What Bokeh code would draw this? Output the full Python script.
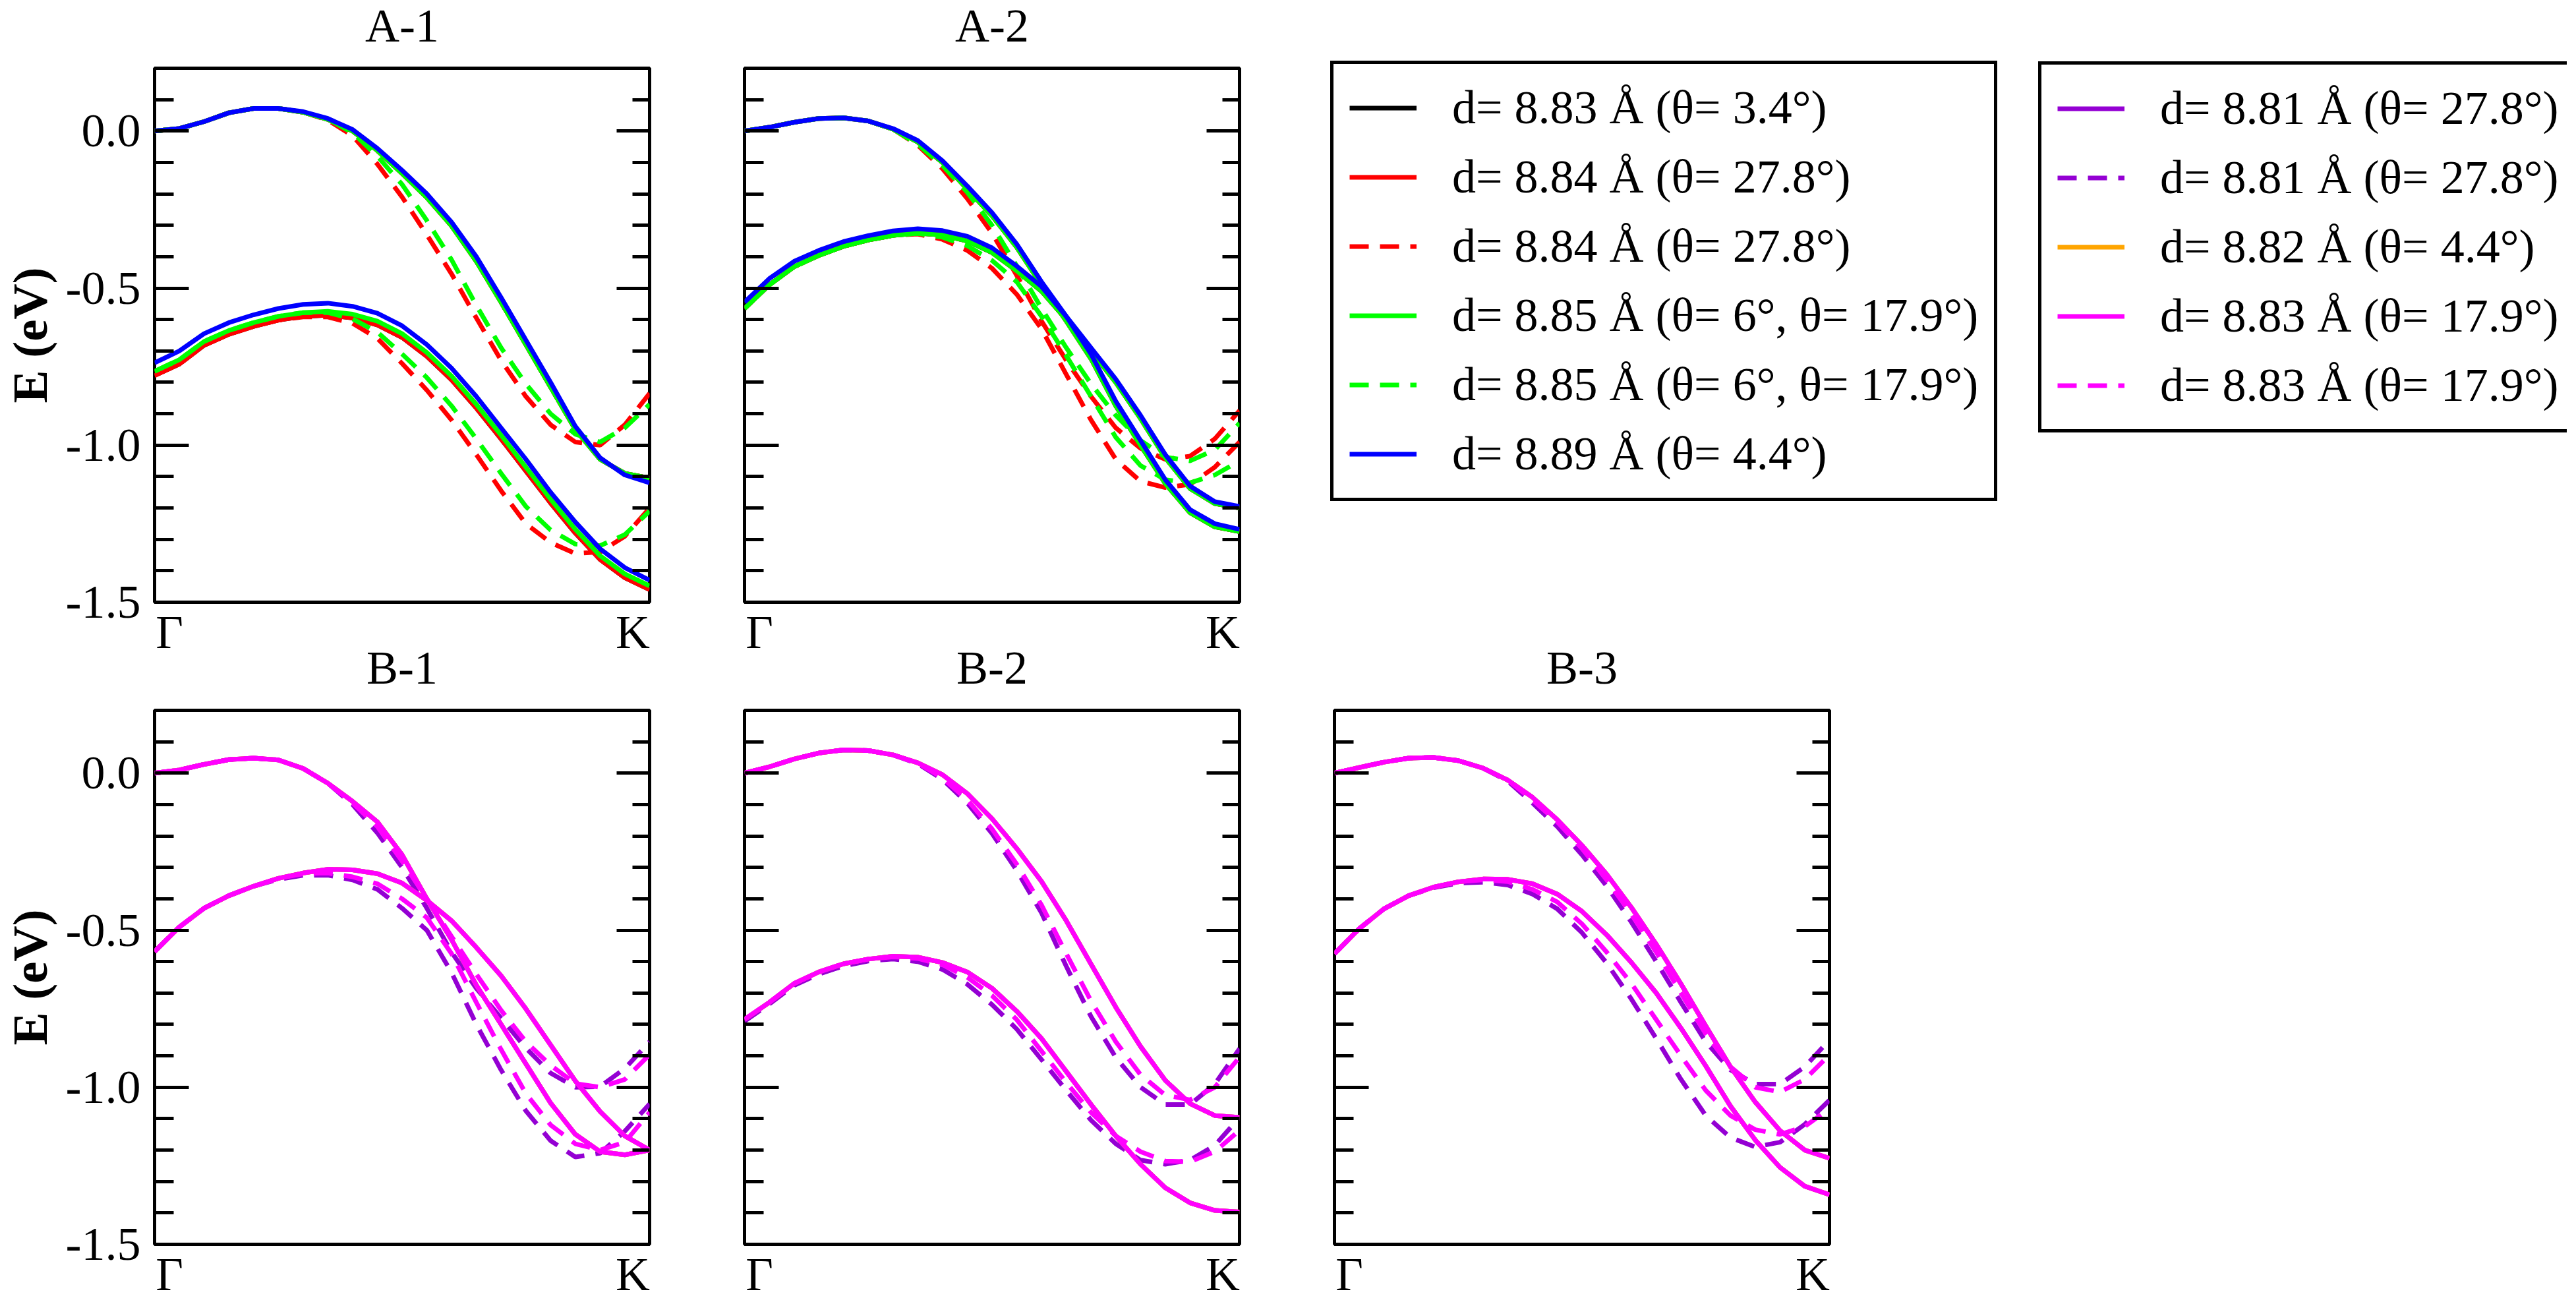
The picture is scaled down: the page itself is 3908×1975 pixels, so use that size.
import numpy as np
from bokeh.plotting import figure
from bokeh.models import Range1d, FixedTicker, LinearAxis, Legend, LegendItem
from bokeh.layouts import row, column
from bokeh.embed import file_html
from bokeh.resources import INLINE

# ---------------- data ----------------
K_PATH = [0.00, 0.05, 0.10, 0.15, 0.20, 0.25, 0.30, 0.35, 0.40, 0.45, 0.50,
          0.55, 0.60, 0.65, 0.70, 0.75, 0.80, 0.85, 0.90, 0.95, 1.00]

Y_TICKS = [-1.5, -1.0, -0.5, 0.0]
Y_TICK_LABELS = ["-1.5", "-1.0", "-0.5", "0.0"]
Y_MINOR = [-1.4, -1.3, -1.2, -1.1, -0.9, -0.8, -0.7, -0.6, -0.4, -0.3, -0.2, -0.1, 0.1]
X_TICK_LABELS = ["Γ", "K"]
PANEL_TITLES = ["A-1", "A-2", "B-1", "B-2", "B-3"]

LEGEND_A = ["d= 8.83 Å (θ= 3.4°)", "d= 8.84 Å (θ= 27.8°)", "d= 8.84 Å (θ= 27.8°)",
            "d= 8.85 Å (θ= 6°, θ= 17.9°)", "d= 8.85 Å (θ= 6°, θ= 17.9°)", "d= 8.89 Å (θ= 4.4°)"]
LEGEND_B = ["d= 8.81 Å (θ= 27.8°)", "d= 8.81 Å (θ= 27.8°)", "d= 8.82 Å (θ= 4.4°)",
            "d= 8.83 Å (θ= 17.9°)", "d= 8.83 Å (θ= 17.9°)"]

# A-1
A1_UP_BLUE = [0.000, 0.008, 0.030, 0.058, 0.072, 0.072, 0.062, 0.040, 0.005, -0.055, -0.125,
              -0.200, -0.290, -0.400, -0.530, -0.665, -0.800, -0.940, -1.040, -1.095, -1.120]
A1_UP_OTHER = [0.000, 0.008, 0.030, 0.058, 0.072, 0.072, 0.060, 0.037, 0.000, -0.062, -0.135,
               -0.212, -0.302, -0.415, -0.545, -0.680, -0.815, -0.950, -1.045, -1.090, -1.105]
A1_LO_BLUE = [-0.738, -0.700, -0.645, -0.610, -0.585, -0.565, -0.552, -0.548, -0.558, -0.580, -0.620,
              -0.680, -0.755, -0.845, -0.945, -1.045, -1.150, -1.245, -1.330, -1.390, -1.430]
A1_LO_GREEN = [-0.765, -0.728, -0.670, -0.635, -0.610, -0.590, -0.578, -0.574, -0.583, -0.605, -0.645,
               -0.705, -0.780, -0.870, -0.968, -1.070, -1.172, -1.268, -1.352, -1.410, -1.448]
A1_LO_BLACK = [-0.778, -0.742, -0.682, -0.647, -0.622, -0.602, -0.590, -0.586, -0.595, -0.617, -0.657,
               -0.717, -0.792, -0.882, -0.980, -1.082, -1.184, -1.280, -1.364, -1.422, -1.460]
A1_UP_RED_DASH = [0.000, 0.008, 0.030, 0.058, 0.072, 0.072, 0.060, 0.035, -0.015, -0.105, -0.210,
                  -0.330, -0.455, -0.595, -0.730, -0.845, -0.935, -0.990, -1.000, -0.935, -0.835]
A1_UP_GREEN_DASH = [0.000, 0.008, 0.030, 0.058, 0.072, 0.072, 0.060, 0.038, -0.005, -0.080, -0.170,
                    -0.285, -0.410, -0.555, -0.690, -0.805, -0.900, -0.965, -0.990, -0.945, -0.870]
A1_LO_RED_DASH = [-0.778, -0.742, -0.682, -0.647, -0.622, -0.602, -0.592, -0.592, -0.612, -0.660, -0.740,
                  -0.825, -0.920, -1.030, -1.145, -1.250, -1.310, -1.345, -1.340, -1.290, -1.200]
A1_LO_GREEN_DASH = [-0.765, -0.728, -0.670, -0.635, -0.610, -0.590, -0.578, -0.578, -0.598, -0.640, -0.710,
                    -0.785, -0.875, -0.980, -1.090, -1.195, -1.270, -1.315, -1.320, -1.285, -1.210]

# A-2
A2_UP_BLUE = [0.000, 0.012, 0.028, 0.040, 0.042, 0.032, 0.008, -0.030, -0.095, -0.175, -0.260,
              -0.360, -0.480, -0.590, -0.710, -0.860, -0.985, -1.110, -1.205, -1.250, -1.268]
A2_LO_BLUE = [-0.545, -0.470, -0.415, -0.380, -0.352, -0.333, -0.318, -0.311, -0.317, -0.335, -0.372,
              -0.430, -0.495, -0.590, -0.690, -0.790, -0.905, -1.030, -1.130, -1.180, -1.195]
A2_UP_OTHER = [0.000, 0.012, 0.028, 0.040, 0.042, 0.032, 0.006, -0.035, -0.100, -0.185, -0.270,
               -0.370, -0.490, -0.605, -0.725, -0.875, -1.000, -1.122, -1.215, -1.260, -1.275]
A2_LO_OTHER = [-0.565, -0.490, -0.432, -0.396, -0.367, -0.347, -0.332, -0.325, -0.331, -0.350, -0.387,
               -0.445, -0.510, -0.600, -0.700, -0.800, -0.915, -1.040, -1.138, -1.186, -1.200]
A2_UP_RED_DASH = [0.000, 0.012, 0.028, 0.040, 0.042, 0.032, 0.006, -0.045, -0.120, -0.215, -0.325,
                  -0.460, -0.605, -0.730, -0.845, -0.945, -1.010, -1.045, -1.035, -0.980, -0.890]
A2_UP_GREEN_DASH = [0.000, 0.012, 0.028, 0.040, 0.042, 0.032, 0.006, -0.042, -0.110, -0.195, -0.300,
                    -0.430, -0.565, -0.690, -0.805, -0.905, -0.985, -1.038, -1.050, -1.015, -0.930]
A2_LO_RED_DASH = [-0.565, -0.490, -0.432, -0.396, -0.367, -0.347, -0.332, -0.328, -0.345, -0.380, -0.437,
                  -0.520, -0.630, -0.775, -0.920, -1.045, -1.115, -1.135, -1.125, -1.070, -0.990]
A2_LO_GREEN_DASH = [-0.565, -0.490, -0.432, -0.396, -0.367, -0.347, -0.332, -0.326, -0.338, -0.365, -0.412,
                    -0.480, -0.590, -0.715, -0.845, -0.975, -1.065, -1.110, -1.120, -1.095, -1.050]

# B-1
B1_UP = [0.000, 0.010, 0.028, 0.043, 0.048, 0.042, 0.015, -0.032, -0.090, -0.155, -0.260,
         -0.400, -0.530, -0.675, -0.800, -0.925, -1.050, -1.150, -1.205, -1.215, -1.200]
B1_LO = [-0.568, -0.490, -0.430, -0.390, -0.360, -0.335, -0.318, -0.306, -0.308, -0.320, -0.350,
         -0.405, -0.470, -0.555, -0.645, -0.750, -0.865, -0.980, -1.077, -1.155, -1.200]
B1_UP_PURPLE_DASH = [0.000, 0.010, 0.028, 0.043, 0.048, 0.042, 0.015, -0.032, -0.100, -0.190, -0.300,
                     -0.430, -0.570, -0.685, -0.780, -0.875, -0.955, -1.000, -0.998, -0.940, -0.855]
B1_UP_MAGENTA_DASH = [0.000, 0.010, 0.028, 0.043, 0.048, 0.042, 0.015, -0.032, -0.095, -0.170, -0.280,
                      -0.400, -0.520, -0.640, -0.755, -0.855, -0.930, -0.988, -1.000, -0.975, -0.896]
B1_LO_PURPLE_DASH = [-0.568, -0.490, -0.430, -0.390, -0.360, -0.338, -0.325, -0.325, -0.340, -0.370, -0.430,
                     -0.500, -0.635, -0.800, -0.945, -1.075, -1.170, -1.222, -1.210, -1.140, -1.053]
B1_LO_MAGENTA_DASH = [-0.568, -0.490, -0.430, -0.390, -0.360, -0.335, -0.320, -0.318, -0.330, -0.352, -0.400,
                      -0.460, -0.575, -0.730, -0.880, -1.020, -1.120, -1.180, -1.200, -1.175, -1.080]

# B-2
B2_UP = [0.000, 0.020, 0.045, 0.064, 0.074, 0.072, 0.058, 0.033, -0.005, -0.065, -0.145,
         -0.240, -0.345, -0.470, -0.608, -0.745, -0.870, -0.978, -1.052, -1.090, -1.096]
B2_LO = [-0.784, -0.730, -0.670, -0.633, -0.607, -0.592, -0.583, -0.586, -0.603, -0.633, -0.685,
         -0.758, -0.845, -0.950, -1.055, -1.155, -1.245, -1.320, -1.368, -1.392, -1.397]
B2_UP_PURPLE_DASH = [0.000, 0.020, 0.045, 0.064, 0.074, 0.072, 0.058, 0.030, -0.020, -0.095, -0.192,
                     -0.310, -0.445, -0.615, -0.775, -0.905, -1.000, -1.055, -1.055, -0.990, -0.877]
B2_UP_MAGENTA_DASH = [0.000, 0.020, 0.045, 0.064, 0.074, 0.072, 0.058, 0.032, -0.015, -0.085, -0.178,
                      -0.290, -0.420, -0.575, -0.725, -0.855, -0.960, -1.025, -1.040, -1.000, -0.904]
B2_LO_PURPLE_DASH = [-0.790, -0.735, -0.676, -0.640, -0.614, -0.598, -0.592, -0.600, -0.625, -0.672, -0.737,
                     -0.815, -0.912, -1.010, -1.105, -1.180, -1.232, -1.245, -1.232, -1.185, -1.096]
B2_LO_MAGENTA_DASH = [-0.784, -0.730, -0.670, -0.633, -0.607, -0.592, -0.585, -0.590, -0.610, -0.650, -0.708,
                      -0.785, -0.885, -0.985, -1.080, -1.155, -1.205, -1.235, -1.237, -1.205, -1.137]

# B-3
B3_UP = [0.000, 0.018, 0.035, 0.048, 0.050, 0.040, 0.016, -0.022, -0.077, -0.148, -0.230,
         -0.322, -0.428, -0.545, -0.671, -0.805, -0.935, -1.047, -1.138, -1.200, -1.226]
B3_LO = [-0.575, -0.495, -0.432, -0.390, -0.363, -0.346, -0.337, -0.338, -0.352, -0.385, -0.440,
         -0.515, -0.603, -0.700, -0.812, -0.932, -1.060, -1.168, -1.255, -1.315, -1.342]
B3_UP_PURPLE_DASH = [0.000, 0.018, 0.035, 0.048, 0.050, 0.040, 0.016, -0.025, -0.095, -0.170, -0.260,
                     -0.360, -0.475, -0.600, -0.730, -0.855, -0.945, -0.990, -0.990, -0.935, -0.849]
B3_UP_MAGENTA_DASH = [0.000, 0.018, 0.035, 0.048, 0.050, 0.040, 0.016, -0.022, -0.085, -0.155, -0.240,
                      -0.340, -0.450, -0.570, -0.700, -0.830, -0.935, -1.000, -1.015, -0.975, -0.897]
B3_LO_PURPLE_DASH = [-0.575, -0.495, -0.432, -0.390, -0.365, -0.350, -0.347, -0.356, -0.385, -0.432, -0.508,
                     -0.605, -0.720, -0.845, -0.975, -1.090, -1.160, -1.190, -1.175, -1.118, -1.041]
B3_LO_MAGENTA_DASH = [-0.575, -0.495, -0.432, -0.390, -0.363, -0.346, -0.340, -0.345, -0.370, -0.410, -0.480,
                      -0.570, -0.670, -0.785, -0.900, -1.010, -1.090, -1.135, -1.150, -1.125, -1.068]

# ---------------- style ----------------
FONT = "Liberation Serif"
FS = "72px"
INK = "#000000"
BLACK, RED, GREEN, BLUE = "#000000", "#ff0000", "#00ff00", "#0000ff"
VIOLET, ORANGE, MAGENTA = "#9400d3", "#ffa500", "#ff00ff"
SOLID, DASH = "solid", "29 17"
LW = 7
FRAME_W, FRAME_H = 751, 810
B_TOP, B_BOT, B_RIGHT = 133, 88, 50
B_LEFT_LABELS, B_LEFT_PLAIN = 232, 94
ROW_H = B_TOP + FRAME_H + B_BOT
TITLE_STANDOFF = 50
GAMMA_X, K_X = 0.03, 0.966
LEG_A_POS = (88, 241)
LEG_B_POS = (1162, 345)


def make_panel(title, curves, with_labels):
    p = figure(frame_width=FRAME_W, frame_height=FRAME_H,
               x_range=Range1d(0, 1), y_range=Range1d(-1.5, 0.2),
               output_backend="svg", toolbar_location=None,
               min_border_left=B_LEFT_LABELS if with_labels else B_LEFT_PLAIN,
               min_border_right=B_RIGHT, min_border_top=B_TOP, min_border_bottom=B_BOT,
               border_fill_alpha=0, background_fill_alpha=0)
    p.xgrid.visible = False
    p.ygrid.visible = False
    p.outline_line_color = INK
    p.outline_line_width = 5
    p.outline_line_alpha = 1.0

    p.title.text = title
    p.title.text_font = FONT
    p.title.text_font_size = FS
    p.title.text_font_style = "normal"
    p.title.text_color = INK
    p.title.align = "center"
    p.title.standoff = TITLE_STANDOFF

    yt = FixedTicker(ticks=Y_TICKS, minor_ticks=Y_MINOR)
    ya = p.yaxis[0]
    ya.ticker = yt
    ya.axis_line_color = None
    ya.major_tick_in, ya.major_tick_out = 52, 0
    ya.minor_tick_in, ya.minor_tick_out = 29, 0
    ya.major_tick_line_width = 5
    ya.minor_tick_line_width = 5
    ya.major_tick_line_color = INK
    ya.minor_tick_line_color = INK
    if with_labels:
        ya.major_label_overrides = dict(zip(Y_TICKS, Y_TICK_LABELS))
        ya.major_label_text_font = FONT
        ya.major_label_text_font_size = FS
        ya.major_label_text_color = INK
        ya.major_label_standoff = 21
        ya.axis_label = "E (eV)"
        ya.axis_label_text_font = FONT
        ya.axis_label_text_font_size = "75px"
        ya.axis_label_text_font_style = "bold"
        ya.axis_label_text_color = INK
        ya.axis_label_standoff = 10
    else:
        ya.major_label_text_color = None
        ya.major_label_standoff = 0

    ra = LinearAxis(ticker=yt, axis_line_color=None,
                    major_tick_in=50, major_tick_out=0, minor_tick_in=26, minor_tick_out=0,
                    major_tick_line_width=5, minor_tick_line_width=5,
                    major_tick_line_color=INK, minor_tick_line_color=INK,
                    major_label_text_color=None, major_label_standoff=0)
    p.add_layout(ra, "right")

    xa = p.xaxis[0]
    xa.ticker = FixedTicker(ticks=[GAMMA_X, K_X])
    xa.major_label_overrides = {GAMMA_X: X_TICK_LABELS[0], K_X: X_TICK_LABELS[1]}
    xa.major_label_text_font = FONT
    xa.major_label_text_font_size = FS
    xa.major_label_text_color = INK
    xa.major_label_standoff = 5
    xa.axis_line_color = None
    xa.major_tick_line_color = None
    xa.major_tick_in, xa.major_tick_out = 0, 0

    for ys, color, dash in curves:
        p.line(K_PATH, ys, line_color=color, line_width=LW, line_dash=dash)
    return p


a1 = make_panel(PANEL_TITLES[0], [
    (A1_UP_OTHER, BLACK, SOLID), (A1_LO_BLACK, BLACK, SOLID),
    (A1_UP_OTHER, RED, SOLID), (A1_LO_BLACK, RED, SOLID),
    (A1_UP_RED_DASH, RED, DASH), (A1_LO_RED_DASH, RED, DASH),
    (A1_UP_OTHER, GREEN, SOLID), (A1_LO_GREEN, GREEN, SOLID),
    (A1_UP_GREEN_DASH, GREEN, DASH), (A1_LO_GREEN_DASH, GREEN, DASH),
    (A1_UP_BLUE, BLUE, SOLID), (A1_LO_BLUE, BLUE, SOLID)], True)

a2 = make_panel(PANEL_TITLES[1], [
    (A2_UP_OTHER, BLACK, SOLID), (A2_LO_OTHER, BLACK, SOLID),
    (A2_UP_OTHER, RED, SOLID), (A2_LO_OTHER, RED, SOLID),
    (A2_UP_RED_DASH, RED, DASH), (A2_LO_RED_DASH, RED, DASH),
    (A2_UP_OTHER, GREEN, SOLID), (A2_LO_OTHER, GREEN, SOLID),
    (A2_UP_GREEN_DASH, GREEN, DASH), (A2_LO_GREEN_DASH, GREEN, DASH),
    (A2_UP_BLUE, BLUE, SOLID), (A2_LO_BLUE, BLUE, SOLID)], False)


def b_curves(up, lo, up_pd, lo_pd, up_md, lo_md):
    return [(up, VIOLET, SOLID), (lo, VIOLET, SOLID),
            (up_pd, VIOLET, DASH), (lo_pd, VIOLET, DASH),
            (up, ORANGE, SOLID), (lo, ORANGE, SOLID),
            (up, MAGENTA, SOLID), (lo, MAGENTA, SOLID),
            (up_md, MAGENTA, DASH), (lo_md, MAGENTA, DASH)]


b1 = make_panel(PANEL_TITLES[2], b_curves(B1_UP, B1_LO, B1_UP_PURPLE_DASH, B1_LO_PURPLE_DASH,
                                          B1_UP_MAGENTA_DASH, B1_LO_MAGENTA_DASH), True)
b2 = make_panel(PANEL_TITLES[3], b_curves(B2_UP, B2_LO, B2_UP_PURPLE_DASH, B2_LO_PURPLE_DASH,
                                          B2_UP_MAGENTA_DASH, B2_LO_MAGENTA_DASH), False)
b3 = make_panel(PANEL_TITLES[4], b_curves(B3_UP, B3_LO, B3_UP_PURPLE_DASH, B3_LO_PURPLE_DASH,
                                          B3_UP_MAGENTA_DASH, B3_LO_MAGENTA_DASH), False)

# ---------------- legend figure ----------------
lf = figure(frame_width=1964, frame_height=ROW_H, output_backend="svg", toolbar_location=None,
            x_range=Range1d(0, 1), y_range=Range1d(0, 1),
            x_axis_location=None, y_axis_location=None,
            min_border_left=0, min_border_right=0, min_border_top=0, min_border_bottom=0,
            outline_line_color=None, border_fill_alpha=0, background_fill_alpha=0)
lf.frame_align = False
lf.xgrid.visible = False
lf.ygrid.visible = False

NAN = np.array([np.nan])
styles_a = [(BLACK, SOLID), (RED, SOLID), (RED, DASH), (GREEN, SOLID), (GREEN, DASH), (BLUE, SOLID)]
styles_b = [(VIOLET, SOLID), (VIOLET, DASH), (ORANGE, SOLID), (MAGENTA, SOLID), (MAGENTA, DASH)]


def make_legend(labels, styles, loc):
    items = []
    for lab, (c, d) in zip(labels, styles):
        r = lf.line(NAN, NAN, line_color=c, line_width=LW, line_dash=d)
        items.append(LegendItem(label=lab, renderers=[r]))
    leg = Legend(items=items, location=loc, margin=0, padding=24, spacing=20,
                 glyph_width=102, glyph_height=85, label_height=85, label_standoff=54,
                 label_text_font=FONT, label_text_font_size=FS, label_text_color=INK,
                 border_line_color=INK, border_line_width=5, border_line_alpha=1.0,
                 background_fill_color="white", background_fill_alpha=1.0)
    lf.add_layout(leg)
    return leg


make_legend(LEGEND_A, styles_a, LEG_A_POS)
make_legend(LEGEND_B, styles_b, LEG_B_POS)

row1 = row(a1, a2, lf, margin=(-30, 0, 0, 0))
row2 = row(b1, b2, b3, margin=(-57, 0, -20, 0))
layout = column(row1, row2)

open("out.html", "w").write(file_html(layout, INLINE))
